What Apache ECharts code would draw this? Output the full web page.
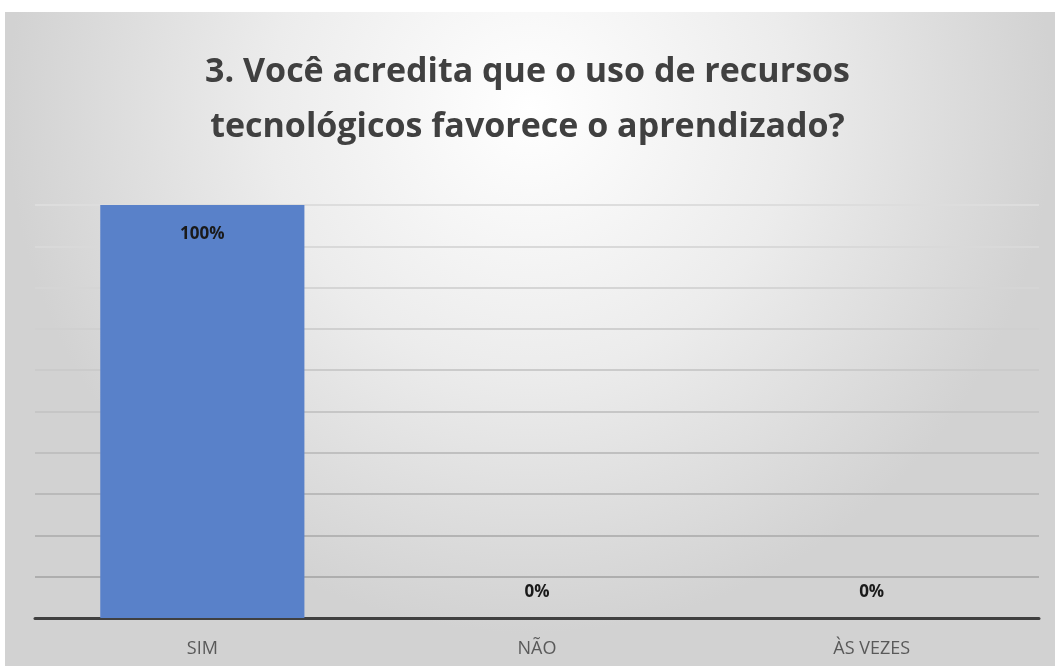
<!DOCTYPE html>
<html>
<head>
<meta charset="utf-8">
<script src="https://cdn.jsdelivr.net/npm/echarts@6/dist/echarts.min.js"></script>
<style>
  html, body { margin: 0; padding: 0; background: #fff; }
  #chart { width: 1055px; height: 666px; }
</style>
</head>
<body>
<div id="chart"></div>
<script>
const titleText = '3. Você acredita que o uso de recursos\ntecnológicos favorece o aprendizado?'
const categories = ['SIM', 'NÃO', 'ÀS VEZES']
const percentValues = [100, 0, 0]
const yMin = 0
const yMax = 100
const yStep = 10

const chart = echarts.init(document.getElementById('chart'))

const fontFamily = "'Open Sans', sans-serif"

// grid lines get a little darker toward the bottom, like the reference
const gridColors = ['#a9a9a9', '#aeaeae', '#b4b4b4', '#bababa', '#c0c0c0', '#c6c6c6', '#cbcbcb', '#d0d0d0', '#d5d5d5', '#d9d9d9', '#dddddd']

chart.setOption({
  backgroundColor: '#ffffff',
  animation: false,
  graphic: [
    {
      type: 'rect',
      z: -10,
      shape: { x: 5, y: 12, width: 1050, height: 654 },
      style: {
        fill: {
          type: 'radial',
          x: 0.5,
          y: 0.15,
          r: 0.8,
          colorStops: [
            { offset: 0, color: '#ffffff' },
            { offset: 0.5, color: '#ececec' },
            { offset: 1, color: '#d2d2d2' }
          ]
        }
      }
    }
  ],
  title: {
    text: titleText,
    left: 'center',
    top: 40,
    textStyle: {
      fontFamily: fontFamily,
      fontSize: 34,
      fontWeight: 'bold',
      color: '#404040',
      lineHeight: 55
    }
  },
  grid: {
    left: 35,
    right: 16,
    top: 205,
    bottom: 48
  },
  xAxis: {
    type: 'category',
    data: categories,
    axisLine: { lineStyle: { color: '#404040', width: 3 } },
    axisTick: { show: false },
    axisLabel: {
      margin: 22,
      fontFamily: fontFamily,
      fontSize: 18,
      color: '#595959'
    }
  },
  yAxis: {
    type: 'value',
    min: yMin,
    max: yMax,
    interval: yStep,
    axisLabel: { show: false },
    axisLine: { show: false },
    axisTick: { show: false },
    splitLine: { lineStyle: { color: gridColors, width: 2 } }
  },
  series: [
    {
      type: 'bar',
      barWidth: '61%',
      data: percentValues.map((v) => ({
        value: v,
        label: {
          show: true,
          position: v > 0 ? 'insideTop' : 'top',
          distance: v > 0 ? 21 : 17
        }
      })),
      itemStyle: { color: '#5981C9' },
      label: {
        formatter: '{c}%',
        fontFamily: fontFamily,
        fontSize: 17,
        fontWeight: 'bold',
        color: '#1a1a1a'
      }
    }
  ]
})
</script>
</body>
</html>
